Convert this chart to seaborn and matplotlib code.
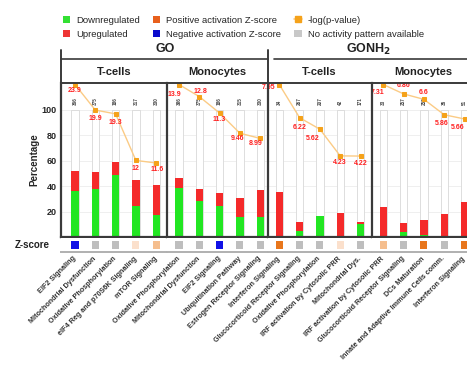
import numpy as np
import pandas as pd
import matplotlib
matplotlib.use("Agg")
import matplotlib.pyplot as plt
from matplotlib.lines import Line2D
from matplotlib.patches import Patch
import seaborn as sns

sns.set_theme(style="white")
plt.rcParams['font.family'] = ['Liberation Sans', 'DejaVu Sans']

# ---------------- data ----------------
datasets = ["GO", "GO", "GONH$_\\mathbf{2}$", "GONH$_\\mathbf{2}$"]
cell_types = ["T-cells", "Monocytes", "T-cells", "Monocytes"]

pathways_go_t = ["EIF2 Signaling", "Mitochondrial Dysfunction", "Oxidative Phosphorylation",
                 "eIF4 Reg and p70S6K Signaling", "mTOR Signaling"]
pathways_go_m = ["Oxidative Phosphorylation", "Mitochondrial Dysfunction", "EIF2 Signaling",
                 "Ubiquitination Pathway", "Estrogen Receptor Signaling"]
pathways_nh_t = ["Interferon Signaling", "Glucocorticoid Receptor Signaling", "Oxidative Phosphorylation",
                 "IRF activation by Cytosolic PRR", "Mitochondrial Dys."]
pathways_nh_m = ["IRF activation by Cytosolic PRR", "Glucocorticoid Receptor Signaling", "DCs Maturation",
                 "Innate and Adaptive Immune Cells comm.", "Interferon Signaling"]

down_go_t = [36, 38, 49, 24.5, 17.5]
up_go_t = [16, 13, 10, 20, 23.5]
down_go_m = [38.5, 28, 24, 16, 15.5]
up_go_m = [7.5, 10, 10.5, 14.5, 21.5]
down_nh_t = [0, 4.5, 16.5, 0, 10.5]
up_nh_t = [35.5, 7.5, 0.3, 19, 1.5]
down_nh_m = [0, 4, 1.5, 0, 0]
up_nh_m = [23.5, 7, 12, 18, 27.5]

logp_go_t = [23.9, 19.9, 19.3, 12, 11.6]
logp_go_m = [13.9, 12.8, 11.3, 9.46, 8.99]
logp_nh_t = [7.95, 6.22, 5.62, 4.23, 4.22]
logp_nh_m = [7.31, 6.86, 6.6, 5.86, 5.66]

counts_go_t = [366, 375, 186, 317, 330]
counts_go_m = [386, 375, 186, 315, 330]
counts_nh_t = [34, 267, 207, 42, 171]
counts_nh_m = [33, 257, 257, 35, 51]

zscore_go_t = ["neg", "na", "na", "pos_weak", "pos_mid"]
zscore_go_m = ["na", "na", "neg", "na", "na"]
zscore_nh_t = ["pos", "na", "na", "pos_weak", "na"]
zscore_nh_m = ["pos_mid", "na", "pos", "na", "pos"]

pathways = [pathways_go_t, pathways_go_m, pathways_nh_t, pathways_nh_m]
downs = [down_go_t, down_go_m, down_nh_t, down_nh_m]
ups = [up_go_t, up_go_m, up_nh_t, up_nh_m]
logps = [logp_go_t, logp_go_m, logp_nh_t, logp_nh_m]
counts = [counts_go_t, counts_go_m, counts_nh_t, counts_nh_m]
zscores = [zscore_go_t, zscore_go_m, zscore_nh_t, zscore_nh_m]

# ---------------- style / layout ----------------
GREEN = "#22E622"
RED = "#F42A2A"
LINE_C = "#FBCB85"
MARK_C = "#F5A21A"
LAB_C = "#FF2020"
ZCOL = {"neg": "#1010E6", "na": "#BEBEBE", "pos": "#E8761C",
        "pos_mid": "#F5BE8E", "pos_weak": "#FBE0CC"}
DARK = "#3A3A3A"

W, H = 467, 379
def rect(x0, y0, x1, y1):
    return [x0 / W, 1 - y1 / H, (x1 - x0) / W, (y1 - y0) / H]

panel_px = [(61, 167), (167, 267.5), (267.5, 371.5), (371.5, 475.5)]
first_bar_px = [75, 179, 279.3, 383.3]
spacing = 20.3
plot_top, plot_bot = 83, 237
z_top, z_bot = 238, 252
# label offsets in points (dx, dy)
lab_off = [
    [(0, -4), (0, -6), (0, -6), (0, -6), (1, -5)],
    [(-3, -7), (1, 4), (0, -5), (-2, -4), (-3, -4)],
    [(-8, -2), (0, -7), (-5, -7), (0, -5), (0, -5)],
    [(-4, -6), (0, 6), (0, 5), (-2, -6), (-5, -6)],
]

fig = plt.figure(figsize=(W / 100, H / 100), dpi=100)

for k in range(4):
    x0, x1 = panel_px[k]
    left = -(first_bar_px[k] - x0) / spacing
    right = left + (x1 - x0) / spacing
    ax = fig.add_axes(rect(x0, plot_top, x1, plot_bot))
    df = pd.DataFrame({"pathway": pathways[k],
                       "down": downs[k],
                       "total": np.array(downs[k]) + np.array(ups[k]),
                       "full": [100] * 5})
    sns.barplot(data=df, x="pathway", y="full", color="white", width=0.36,
                edgecolor="#D8D8D8", linewidth=0.6, errorbar=None, ax=ax)
    sns.barplot(data=df, x="pathway", y="total", color=RED, width=0.36,
                saturation=1, errorbar=None, linewidth=0, ax=ax)
    sns.barplot(data=df, x="pathway", y="down", color=GREEN, width=0.36,
                saturation=1, errorbar=None, linewidth=0, ax=ax)
    ax.set_xlim(left, right)
    ax.set_ylim(0, 121)
    ax.set_xlabel("")
    ax.set_xticks([])
    ax.set_yticks([20, 40, 60, 80, 100])
    ax.yaxis.grid(True, color="#EDEDED", linewidth=0.6)
    ax.set_axisbelow(True)
    ax.tick_params(axis="y", length=0, pad=3)
    if k == 0:
        ax.set_yticklabels(["20", "40", "60", "80", "100"], fontsize=6.5, fontweight="bold")
        ax.set_ylabel("Percentage", fontsize=7, fontweight="bold", labelpad=2)
    else:
        ax.set_yticklabels([])
        ax.set_ylabel("")
    for s in ["left", "bottom"]:
        ax.spines[s].set_color(DARK)
        ax.spines[s].set_linewidth(1.6)
    ax.spines["right"].set_visible(False)
    ax.spines["top"].set_visible(False)
    for i, n in enumerate(counts[k]):
        ax.text(i, 104, str(n), rotation=90, fontsize=3.3, ha="center", va="bottom",
                color="#444444", fontweight="bold")

    # -log(p) line
    ax2 = ax.twinx()
    lp = logps[k]
    sns.lineplot(x=np.arange(5), y=lp, ax=ax2, color=LINE_C, linewidth=1.0,
                 marker="s", markersize=3, markerfacecolor=MARK_C,
                 markeredgecolor=MARK_C, clip_on=False)
    ax2.set_ylim(0, max(lp) * 1.01)
    ax2.set_xlim(left, right)
    ax2.axis("off")
    for i, v in enumerate(lp):
        dx, dy = lab_off[k][i]
        ax2.annotate(f"{v:g}", (i, v), xytext=(dx, dy), textcoords="offset points",
                     ha="center", va="center", fontsize=5, fontweight="bold",
                     color=LAB_C, annotation_clip=False)

    # z-score row
    az = fig.add_axes(rect(x0, z_top, x1, z_bot))
    zdf = pd.DataFrame({"x": np.arange(5), "y": [0.5] * 5, "z": zscores[k]})
    sns.scatterplot(data=zdf, x="x", y="y", hue="z", palette=ZCOL, marker="s",
                    s=26, linewidth=0, legend=False, ax=az)
    az.set_xlim(left, right)
    az.set_ylim(0, 1)
    az.set_ylabel("")
    az.set_xlabel("")
    az.set_yticks([])
    az.set_xticks(np.arange(5))
    az.set_xticklabels(pathways[k], rotation=45, ha="right", va="center",
                       rotation_mode="anchor", fontsize=5.2, fontweight="bold",
                       color="#333333")
    az.tick_params(axis="x", length=0, pad=4)
    for s in ["left", "right", "top"]:
        az.spines[s].set_visible(False)
    az.spines["bottom"].set_color("#B0B0B0")
    az.spines["bottom"].set_linewidth(1.4)
    if k == 0:
        az.text(left - 0.55, 0.5, "Z-score", fontsize=7,
                fontweight="bold", ha="right", va="center", color="#222222")

# separators between panels
for xp in [167, 267.5, 371.5]:
    fig.add_artist(Line2D([xp / W] * 2, [1 - plot_top / H, 1 - plot_bot / H],
                          color=DARK, linewidth=1.4))

# strip boxes
strip_top = 59
for (sx0, sx1, line_from) in [(61, 267.5, 61), (267.5, 480, 274)]:
    fig.add_artist(Line2D([line_from / W, sx1 / W], [1 - strip_top / H] * 2,
                          color=DARK, linewidth=1.2))
    fig.add_artist(Line2D([sx0 / W, sx1 / W], [1 - plot_top / H] * 2,
                          color=DARK, linewidth=1.4))
fig.add_artist(Line2D([61 / W] * 2, [1 - 50 / H, 1 - plot_top / H], color=DARK, linewidth=1.4))
fig.add_artist(Line2D([267.5 / W] * 2, [1 - 50 / H, 1 - plot_top / H], color=DARK, linewidth=1.4))

for k in range(4):
    x0, x1 = panel_px[k]
    fig.text(((x0 + x1) / 2) / W, 1 - 72 / H, cell_types[k], ha="center", va="center",
             fontsize=8, fontweight="bold", color="#222222")
fig.text(165 / W, 1 - 49 / H, datasets[0], ha="center", va="center",
         fontsize=9, fontweight="bold", color="#222222")
fig.text(368 / W, 1 - 49 / H, datasets[2], ha="center", va="center",
         fontsize=9, fontweight="bold", color="#222222")

# legend
handles = [
    Patch(facecolor="#33E033", edgecolor="none", label="Downregulated"),
    Patch(facecolor="#EE3535", edgecolor="none", label="Upregulated"),
    Patch(facecolor="#E8601C", edgecolor="none", label="Positive activation Z-score"),
    Patch(facecolor="#0A0ACC", edgecolor="none", label="Negative activation Z-score"),
    Line2D([0], [0], color=LINE_C, marker="s", markersize=4, markerfacecolor=MARK_C,
           markeredgecolor=MARK_C, linewidth=1.2, label="-log(p-value)"),
    Patch(facecolor="#C8C8C8", edgecolor="none", label="No activity pattern available"),
]
fig.legend(handles=handles, ncol=3, loc="upper left", bbox_to_anchor=(58 / W, 1 - 11 / H),
           frameon=False, fontsize=6.8, handlelength=0.8, handleheight=0.8,
           handletextpad=0.6, columnspacing=1.4, labelspacing=0.55, borderpad=0)

fig.savefig("out.png", dpi=100)
